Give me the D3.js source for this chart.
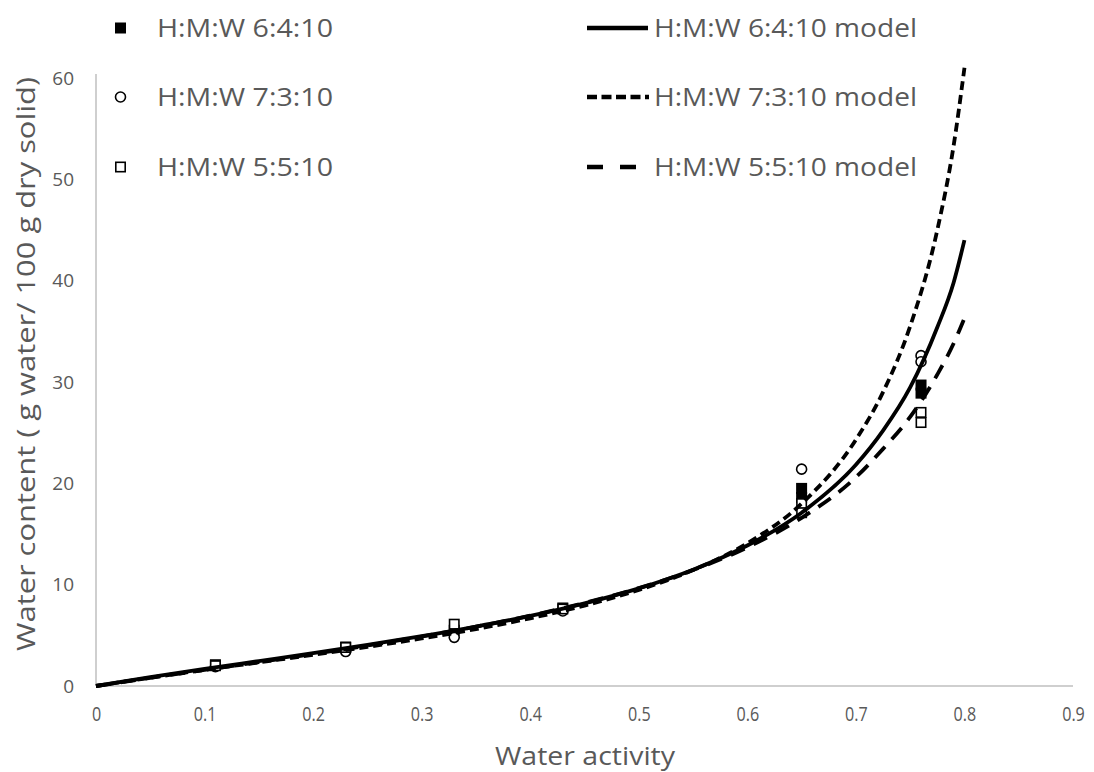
<!DOCTYPE html>
<html>
<head>
<meta charset="utf-8">
<script src="https://cdn.jsdelivr.net/npm/d3@7"></script>
<style>
  html, body { margin: 0; padding: 0; background: #fff; }
  svg { display: block; }
  text { font-family: "Open Sans", Lato, sans-serif; fill: #595959; }
</style>
</head>
<body>
<svg id="chart" width="1094" height="772"></svg>
<script>
// ---- data ----
const xTicks = [0, 0.1, 0.2, 0.3, 0.4, 0.5, 0.6, 0.7, 0.8, 0.9];
const yTicks = [0, 10, 20, 30, 40, 50, 60];

// measured points
const aw_643 = [0.11, 0.23, 0.33, 0.43, 0.65, 0.65, 0.76, 0.76];
const wc_643 = [2.1, 3.85, 5.5, 7.7, 19.5, 18.6, 29.7, 28.9];
const aw_733 = [0.11, 0.23, 0.33, 0.43, 0.65, 0.76, 0.76];
const wc_733 = [1.9, 3.4, 4.8, 7.4, 21.4, 32.6, 32.0];
const aw_553 = [0.11, 0.23, 0.33, 0.43, 0.65, 0.65, 0.76, 0.76];
const wc_553 = [2.0, 3.8, 6.1, 7.6, 18.0, 17.1, 27.0, 26.0];

// model curves
const awModel = [0, 0.05, 0.1, 0.15, 0.2, 0.25, 0.3, 0.35, 0.4, 0.45, 0.5, 0.55, 0.6, 0.65, 0.7, 0.725, 0.75, 0.775, 0.79, 0.8];
const model_643 = [0, 0.87, 1.68, 2.46, 3.24, 4.05, 4.91, 5.86, 6.92, 8.16, 9.64, 11.48, 13.86, 17.1, 21.83, 25.2, 29.46, 35.4, 39.8, 44.0];
const model_733 = [0, 0.82, 1.59, 2.33, 3.08, 3.86, 4.69, 5.62, 6.68, 7.94, 9.48, 11.44, 14.09, 18.0, 24.3, 29.0, 35.5, 45.0, 53.3, 61.0];
const model_553 = [0, 0.80, 1.58, 2.36, 3.16, 3.99, 4.88, 5.85, 6.94, 8.19, 9.66, 11.44, 13.68, 16.60, 20.6, 23.4, 26.55, 30.74, 33.8, 36.3];

const seriesNames = ["H:M:W 6:4:10", "H:M:W 7:3:10", "H:M:W 5:5:10"];
const modelNames = ["H:M:W 6:4:10 model", "H:M:W 7:3:10 model", "H:M:W 5:5:10 model"];

// ---- layout ----
const svg = d3.select("#chart");
const x = d3.scaleLinear().domain([0, 0.9]).range([96, 1073]);
const y = d3.scaleLinear().domain([0, 60]).range([686, 78]);
const FONT = "'Open Sans', Lato, sans-serif";

// axes lines
svg.append("line").attr("x1", x(0)).attr("x2", x(0.9)).attr("y1", y(0)).attr("y2", y(0))
  .attr("stroke", "#bfbfbf").attr("stroke-width", 1.5);
svg.append("line").attr("x1", x(0)).attr("x2", x(0)).attr("y1", y(0)).attr("y2", y(60) - 4)
  .attr("stroke", "#bfbfbf").attr("stroke-width", 1.5);

// tick labels via d3 axes
const xAxis = d3.axisBottom(x).tickValues(xTicks).tickSize(0).tickPadding(20)
  .tickFormat(d => d === 0 ? "0" : d3.format(".1f")(d));
const gx = svg.append("g").attr("transform", `translate(0,${y(0)})`).call(xAxis);
gx.select(".domain").remove();
gx.selectAll("text").attr("font-size", 19).attr("fill", "#595959")
  .style("font-family", FONT).attr("transform", "scale(0.85,1.05)");

const yAxis = d3.axisLeft(y).tickValues(yTicks).tickSize(0).tickPadding(22);
const gy = svg.append("g").attr("transform", `translate(${x(0)},0)`).call(yAxis);
gy.select(".domain").remove();
gy.selectAll("text").attr("font-size", 19).attr("fill", "#595959")
  .style("font-family", FONT);

// axis titles
svg.append("text").attr("x", 585).attr("y", 765).attr("text-anchor", "middle")
  .attr("font-size", 26).attr("textLength", 180).attr("lengthAdjust", "spacingAndGlyphs")
  .text("Water activity");
svg.append("text").attr("transform", "translate(35,364) rotate(-90)").attr("text-anchor", "middle")
  .attr("font-size", 25).attr("textLength", 574).attr("lengthAdjust", "spacingAndGlyphs")
  .text("Water content ( g water/ 100 g dry solid)");

// markers (drawn below the model lines)
const ms = 11;
const gm = svg.append("g");
gm.selectAll(null).data(aw_643.map((v, i) => [v, wc_643[i]])).enter().append("rect")
  .attr("x", d => x(d[0]) - ms / 2).attr("y", d => y(d[1]) - ms / 2)
  .attr("width", ms).attr("height", ms).attr("fill", "#000");
gm.selectAll(null).data(aw_733.map((v, i) => [v, wc_733[i]])).enter().append("circle")
  .attr("cx", d => x(d[0])).attr("cy", d => y(d[1])).attr("r", 5)
  .attr("fill", "#fff").attr("stroke", "#000").attr("stroke-width", 1.6);
gm.selectAll(null).data(aw_553.map((v, i) => [v, wc_553[i]])).enter().append("rect")
  .attr("x", d => x(d[0]) - ms / 2 + 0.8).attr("y", d => y(d[1]) - ms / 2 + 0.8)
  .attr("width", ms - 1.6).attr("height", ms - 1.6).attr("fill", "#fff")
  .attr("stroke", "#000").attr("stroke-width", 1.6);

// model curves
const line = d3.line().x(d => x(d[0])).y(d => y(d[1])).curve(d3.curveMonotoneX);
const models = [
  { vals: model_643, dash: null, legDash: null, legEnd: 648 },
  { vals: model_733, dash: "9,5", legDash: "10,4.5", legEnd: 649 },
  { vals: model_553, dash: "15,10", legDash: "16,17", legEnd: 638 }
];
models.forEach(m => {
  svg.append("path").datum(awModel.map((a, i) => [a, m.vals[i]]))
    .attr("d", line).attr("fill", "none").attr("stroke", "#000")
    .attr("stroke-width", 3.8)
    .attr("stroke-dasharray", m.dash);
});

// legend
const legRows = [28, 97, 167];
const lg = svg.append("g");
lg.append("rect").attr("x", 120.5 - 5.5).attr("y", legRows[0] - 5.5).attr("width", 11).attr("height", 11).attr("fill", "#000");
lg.append("circle").attr("cx", 120.5).attr("cy", legRows[1]).attr("r", 5).attr("fill", "#fff").attr("stroke", "#000").attr("stroke-width", 1.6);
lg.append("rect").attr("x", 120.5 - 4.7).attr("y", legRows[2] - 4.7).attr("width", 9.4).attr("height", 9.4).attr("fill", "#fff").attr("stroke", "#000").attr("stroke-width", 1.6);
seriesNames.forEach((n, i) => {
  lg.append("text").attr("x", 157).attr("y", legRows[i]).attr("dy", "0.36em")
    .attr("font-size", 26).attr("textLength", 176).attr("lengthAdjust", "spacingAndGlyphs").text(n);
});
models.forEach((m, i) => {
  lg.append("line").attr("x1", 587).attr("x2", m.legEnd).attr("y1", legRows[i]).attr("y2", legRows[i])
    .attr("stroke", "#000").attr("stroke-width", 4.5).attr("stroke-dasharray", m.legDash);
  lg.append("text").attr("x", 654).attr("y", legRows[i]).attr("dy", "0.36em")
    .attr("font-size", 26).attr("textLength", 263).attr("lengthAdjust", "spacingAndGlyphs").text(modelNames[i]);
});
</script>
</body>
</html>
